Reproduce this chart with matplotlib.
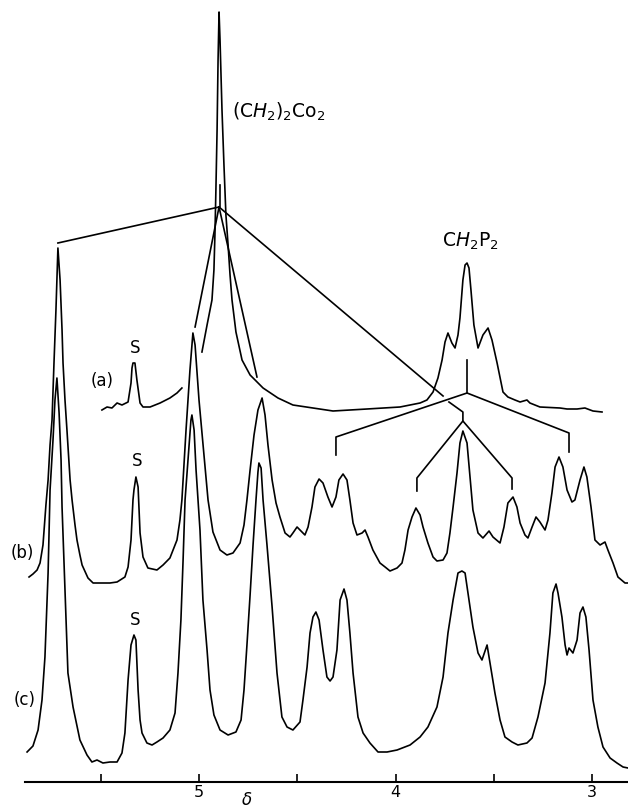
import matplotlib
matplotlib.use("Agg")
import matplotlib.pyplot as plt
import numpy as np

nan = np.nan

# spectrum (a): chemical shift (ppm) and intensity (arbitrary, above axis)
a_shift = [5.494, 5.468, 5.443, 5.417, 5.392, 5.361, 5.346, 5.341, 5.336, 5.326,
           5.316, 5.300, 5.285, 5.249, 5.198, 5.148, 5.112, 5.087, nan,
           4.985, 4.959, 4.934, 4.924, 4.919, 4.914, 4.908, 4.903, 4.898, 4.893,
           4.883, 4.873, 4.863, 4.852, 4.842, 4.832, 4.812, 4.781, 4.740, 4.674,
           4.598, 4.522, 4.420, 4.318, 4.145, 3.977, 3.875, 3.840, 3.809, 3.784,
           3.763, 3.748, 3.733, 3.713, 3.697, 3.682, 3.672, 3.657, 3.646, 3.636,
           3.626, 3.616, 3.601, 3.580, 3.555, 3.529, 3.509, 3.483, 3.453, 3.428,
           3.392, 3.366, 3.331, 3.316, 3.265, 3.163, 3.127, 3.076, 3.036, 2.995,
           2.949]
a_int = [372, 375, 374, 379, 377, 380, 399, 414, 419, 419,
         402, 379, 375, 375, 379, 384, 389, 394, nan,
         430, 457, 482, 512, 547, 592, 652, 722, 770, 742,
         672, 617, 567, 537, 507, 482, 450, 422, 407, 394,
         384, 377, 374, 371, 373, 375, 379, 382, 390, 404,
         422, 440, 449, 439, 434, 447, 464, 502, 517, 519,
         514, 492, 457, 434, 447, 454, 442, 419, 390, 385,
         382, 380, 382, 379, 375, 374, 373, 373, 374, 371,
         370]

# spectrum (b)
b_shift = [5.865, 5.845, 5.824, 5.809, 5.794, 5.779, 5.768, 5.758, 5.748, 5.738,
           5.728, 5.723, 5.718, 5.707, 5.697, 5.692, 5.682, 5.672, 5.656, 5.646,
           5.631, 5.621, 5.606, 5.595, 5.565, 5.539, 5.504, 5.453, 5.417, 5.377,
           5.361, 5.346, 5.336, 5.331, 5.321, 5.310, 5.300, 5.285, 5.260, 5.214,
           5.183, 5.148, 5.112, 5.097, 5.087, 5.066, 5.046, 5.031, 5.020, 5.000,
           4.975, 4.954, 4.929, 4.893, 4.858, 4.827, 4.791, 4.771, 4.756, 4.740,
           4.720, 4.700, 4.679, 4.664, 4.649, 4.628, 4.608, 4.588, 4.562, 4.537,
           4.522, 4.501, 4.486, 4.461, 4.445, 4.425, 4.410, 4.389, 4.369, 4.344,
           4.323, 4.303, 4.288, 4.267, 4.247, 4.232, 4.216, 4.196, 4.170, 4.155,
           4.140, 4.115, 4.079, 4.053, 4.028, 3.992, 3.967, 3.952, 3.936, 3.916,
           3.896, 3.875, 3.860, 3.835, 3.809, 3.789, 3.758, 3.738, 3.723, 3.707,
           3.687, 3.672, 3.657, 3.636, 3.621, 3.606, 3.580, 3.555, 3.524, 3.504,
           3.468, 3.448, 3.428, 3.402, 3.382, 3.366, 3.341, 3.326, 3.305, 3.285,
           3.265, 3.239, 3.224, 3.204, 3.188, 3.168, 3.148, 3.127, 3.102, 3.087,
           3.061, 3.041, 3.026, 3.005, 2.985, 2.959, 2.934, 2.919, 2.893, 2.868,
           2.832, 2.817]
b_int = [205, 208, 212, 219, 237, 277, 302, 337, 362, 419,
         472, 502, 534, 502, 452, 419, 382, 352, 302, 282,
         257, 242, 227, 217, 204, 199, 199, 199, 200, 205,
         215, 242, 282, 292, 305, 295, 249, 225, 214, 212,
         217, 224, 242, 262, 282, 352, 412, 449, 437, 382,
         327, 282, 250, 232, 227, 229, 239, 257, 282, 312,
         347, 372, 384, 367, 337, 302, 279, 265, 249, 245,
         249, 255, 252, 247, 255, 275, 295, 303, 299, 285,
         275, 285, 302, 308, 302, 282, 259, 247, 249, 252,
         245, 232, 219, 215, 211, 214, 219, 232, 252, 265,
         274, 267, 255, 239, 225, 221, 222, 229, 249, 275,
         309, 339, 351, 339, 305, 272, 249, 244, 251, 245,
         239, 255, 279, 285, 275, 259, 247, 244, 255, 265,
         260, 252, 262, 289, 315, 325, 315, 292, 280, 282,
         302, 315, 305, 275, 242, 237, 240, 232, 219, 205,
         199, 199]

# spectrum (c)
c_shift = [5.875, 5.845, 5.819, 5.799, 5.784, 5.768, 5.758, 5.743, 5.733, 5.723,
           5.712, 5.702, 5.697, 5.682, 5.667, 5.641, 5.606, 5.570, 5.545, 5.519,
           5.489, 5.453, 5.417, 5.392, 5.377, 5.361, 5.346, 5.331, 5.321, 5.310,
           5.300, 5.290, 5.265, 5.239, 5.214, 5.183, 5.148, 5.122, 5.107, 5.092,
           5.081, 5.071, 5.056, 5.041, 5.036, 5.025, 5.015, 5.005, 4.995, 4.980,
           4.959, 4.944, 4.924, 4.893, 4.852, 4.812, 4.786, 4.771, 4.756, 4.740,
           4.725, 4.710, 4.700, 4.695, 4.684, 4.674, 4.654, 4.628, 4.603, 4.578,
           4.552, 4.522, 4.486, 4.471, 4.450, 4.435, 4.420, 4.405, 4.389, 4.369,
           4.349, 4.333, 4.318, 4.298, 4.282, 4.262, 4.247, 4.232, 4.216, 4.191,
           4.165, 4.130, 4.089, 4.043, 3.992, 3.926, 3.875, 3.835, 3.789, 3.758,
           3.733, 3.707, 3.682, 3.662, 3.646, 3.631, 3.606, 3.580, 3.560, 3.534,
           3.519, 3.494, 3.468, 3.443, 3.407, 3.377, 3.331, 3.305, 3.275, 3.239,
           3.214, 3.199, 3.183, 3.173, 3.153, 3.137, 3.127, 3.117, 3.097, 3.076,
           3.061, 3.046, 3.031, 3.015, 2.995, 2.970, 2.944, 2.908, 2.873, 2.842,
           2.817]
c_int = [30, 36, 52, 82, 125, 209, 292, 342, 382, 404,
         369, 322, 275, 192, 109, 75, 42, 27, 20, 22,
         19, 20, 20, 29, 49, 102, 137, 147, 142, 92,
         62, 49, 39, 37, 40, 44, 52, 69, 109, 162,
         222, 282, 322, 362, 367, 352, 312, 282, 252, 182,
         132, 92, 67, 52, 47, 50, 62, 92, 137, 187,
         237, 282, 310, 319, 314, 282, 237, 175, 109, 65,
         55, 52, 60, 82, 115, 149, 165, 170, 162, 132,
         105, 101, 105, 132, 182, 193, 182, 149, 109, 65,
         49, 39, 30, 30, 32, 37, 45, 55, 75, 105,
         149, 182, 209, 211, 209, 189, 155, 129, 122, 137,
         119, 89, 62, 45, 40, 37, 39, 44, 65, 99,
         149, 189, 198, 189, 165, 137, 127, 134, 129, 142,
         169, 175, 165, 132, 82, 55, 35, 24, 19, 15,
         14]

# correlation / splitting lines: each entry is (shifts, intensities)
tie_lines = [
    ([5.718, 4.898], [539, 575]),
    ([4.893, 4.893], [597, 575]),
    ([4.898, 5.020], [575, 455]),
    ([4.898, 4.705], [575, 405]),
    ([4.898, 3.758], [575, 386]),
    ([3.728, 3.657, 3.657], [380, 370, 361]),
    ([3.891, 3.891, 3.657, 3.407, 3.407], [291, 304, 361, 304, 293]),
    ([3.636, 3.636], [422, 389]),
    ([4.303, 4.303, 3.636, 3.117, 3.117], [327, 345, 389, 349, 330]),
]

tick_pos = [5.5, 5.0, 4.5, 4.0, 3.5, 3.0]
tick_lab = ["", "5", "", "4", "", "3"]

labels = [
    ("(a)", 5.494, 401), ("(b)", 5.900, 229), ("(c)", 5.885, 82),
    ("S", 5.326, 434), ("S", 5.316, 321), ("S", 5.326, 162),
]

fig = plt.figure(figsize=(6.28, 8.10), dpi=100)
ax = fig.add_axes([25 / 628, 28 / 810, 603 / 628, 782 / 810])
ax.set_xlim(5.8855, 2.8168)
ax.set_ylim(0, 782)

lw = 1.2
for xs, ys in [(a_shift, a_int), (b_shift, b_int), (c_shift, c_int)]:
    ax.plot(xs, ys, color="black", lw=lw, clip_on=False, solid_joinstyle="round")
for xs, ys in tie_lines:
    ax.plot(xs, ys, color="black", lw=lw, clip_on=False)

for txt, x, y in labels:
    ax.text(x, y, txt, fontsize=12, ha="center", va="center")

ax.text(4.832, 670, r"(C$\mathit{H}_2$)$_2$Co$_2$", fontsize=13.5,
        ha="left", va="center")
ax.text(3.621, 541, r"C$\mathit{H}_2$P$_2$", fontsize=13.5,
        ha="center", va="center")
# delta sits right at the bottom edge, as in the original
ax.text(4.756, -27, r"$\delta$", fontsize=12, ha="center", va="bottom")

for side in ["top", "left", "right"]:
    ax.spines[side].set_visible(False)
ax.spines["bottom"].set_linewidth(1.5)
ax.set_yticks([])
ax.set_xticks(tick_pos)
ax.set_xticklabels(tick_lab)
ax.tick_params(axis="x", direction="in", length=5.8, width=1.2, pad=2,
               labelsize=11.5)
ax.patch.set_alpha(0)

fig.savefig("out.png", dpi=100)
